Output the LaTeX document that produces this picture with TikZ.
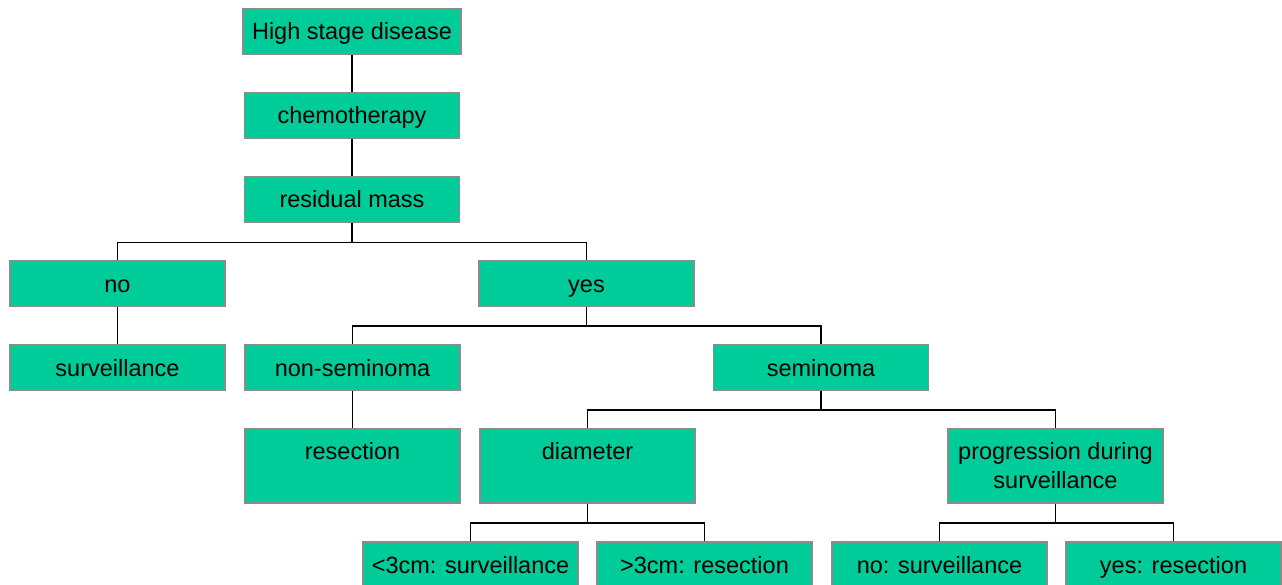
\documentclass[tikz,border=0pt]{standalone}
\usepackage{fontspec}
\setmainfont{Liberation Sans}
\definecolor{boxgreen}{HTML}{00CC99}
\definecolor{boxgray}{HTML}{8C8C8C}
\tikzset{
  stage/.style={rectangle, fill=boxgreen, draw=boxgray, line width=1.5pt,
    minimum width=215pt, minimum height=45pt, inner sep=0pt,
    text height=20pt, text depth=3pt,
    font=\fontsize{23.5}{29}\selectfont, align=center},
  tallstage/.style={stage, minimum height=74pt, text height=20pt, text depth=34pt},
  twoline/.style={stage, minimum height=74pt, text height=, text depth=},
  link/.style={line width=1.5pt}
}
\begin{document}
\begin{tikzpicture}[x=1pt,y=-1pt]
\useasboundingbox (0,0) rectangle (1282,585);
\node[stage, minimum width=218pt] (high) at (352,31.5){High stage disease};
\node[stage] (chemo) at (352,115.5){chemotherapy};
\node[stage] (resid) at (352,199.5){residual mass};
\draw[link](high) -- (chemo);
\draw[link](chemo) -- (resid);
\node[stage] (no) at (117.5,283.5){no};
\node[stage] (yes) at (586.5,283.5){yes};
\draw[link](resid.south) -- ++(0,20) -| (no.north);
\draw[link](resid.south) -- ++(0,20) -| (yes.north);
\node[stage] (surv) at (117.5,367.5){surveillance};
\draw[link](no) -- (surv);
\node[stage] (nonsem) at (352.5,367.5){non-seminoma};
\node[stage] (sem) at (821,367.5){seminoma};
\draw[link](yes.south) -- ++(0,19) -| (nonsem.north);
\draw[link](yes.south) -- ++(0,19) -| (sem.north);
\node[tallstage] (resec) at (352.5,466){resection};
\draw[link](nonsem) -- (resec);
\node[tallstage] (diam) at (587.5,466){diameter};
\node[twoline] (prog) at (1055.5,466){progression during\\surveillance};
\draw[link](sem.south) -- ++(0,19) -| (diam.north);
\draw[link](sem.south) -- ++(0,19) -| (prog.north);
\node[stage] (small) at (470.5,564.5){<3cm: surveillance};
\node[stage] (large) at (704.5,564.5){>3cm: resection};
\draw[link](diam.south) -- ++(0,19) -| (small.north);
\draw[link](diam.south) -- ++(0,19) -| (large.north);
\node[stage] (noprog) at (939.5,564.5){no: surveillance};
\node[stage] (yesprog) at (1173.5,564.5){yes: resection};
\draw[link](prog.south) -- ++(0,19) -| (noprog.north);
\draw[link](prog.south) -- ++(0,19) -| (yesprog.north);
\end{tikzpicture}
\end{document}
